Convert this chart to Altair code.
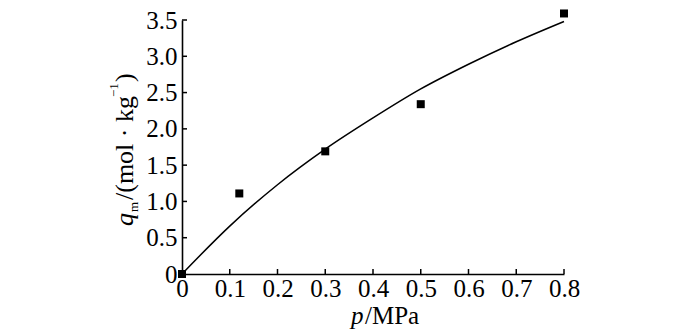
import altair as alt
import pandas as pd

# measured points
p_data = [0.0, 0.12, 0.30, 0.50, 0.80]
q_data = [0.0, 1.11, 1.69, 2.34, 3.59]

# fitted curve
p_fit = [0.0, 0.1, 0.2, 0.3, 0.4, 0.5, 0.6, 0.7, 0.8]
q_fit = [0.0, 0.66, 1.23, 1.72, 2.15, 2.55, 2.89, 3.20, 3.48]

x_ticks = [0.0, 0.1, 0.2, 0.3, 0.4, 0.5, 0.6, 0.7, 0.8]
y_ticks = [0.0, 0.5, 1.0, 1.5, 2.0, 2.5, 3.0, 3.5]

W, H = 382, 254
FONT = "Liberation Serif"
FS = 25

xs = alt.Scale(domain=[0, 0.8], nice=False, zero=False)
ys = alt.Scale(domain=[0, 3.5], nice=False, zero=False)

x_axis = alt.Axis(values=x_ticks, ticks=False, grid=False, title=None,
                  labelExpr="datum.value == 0 ? '0' : format(datum.value, '.1f')",
                  domainColor="black", domainWidth=1.6, labelFont=FONT, labelFontSize=FS,
                  labelColor="black", labelPadding=2, labelFlush=False, labelOverlap=False)
y_axis = alt.Axis(values=y_ticks, ticks=False, grid=False, title=None,
                  labelExpr="datum.value == 0 ? '0' : format(datum.value, '.1f')",
                  domainColor="black", domainWidth=1.6, labelFont=FONT, labelFontSize=FS,
                  labelColor="black", labelPadding=5, labelFlush=False, labelOverlap=False)

fit_df = pd.DataFrame({"p": p_fit, "q": q_fit})
pts_df = pd.DataFrame({"p": p_data, "q": q_data})

curve = alt.Chart(fit_df).mark_line(color="black", strokeWidth=1.5, interpolate="monotone").encode(
    x=alt.X("p:Q", scale=xs, axis=x_axis), y=alt.Y("q:Q", scale=ys, axis=y_axis))

points = alt.Chart(pts_df).mark_square(color="black", size=64, opacity=1, clip=False).encode(
    x=alt.X("p:Q", scale=xs, axis=x_axis), y=alt.Y("q:Q", scale=ys, axis=y_axis))

xt = alt.Chart(pd.DataFrame({"p": x_ticks[1:]})).mark_rule(color="black", strokeWidth=1.5).encode(
    x=alt.X("p:Q", scale=xs, axis=x_axis), y=alt.value(H), y2=alt.value(H - 5))
yt = alt.Chart(pd.DataFrame({"q": y_ticks[1:]})).mark_rule(color="black", strokeWidth=1.5).encode(
    y=alt.Y("q:Q", scale=ys, axis=y_axis), x=alt.value(0), x2=alt.value(5))


def label(txt, x, y, size=FS, italic=False, angle=0):
    kw = dict(font=FONT, fontSize=size, color="black", align="left", baseline="alphabetic")
    if italic:
        kw["fontStyle"] = "italic"
    if angle:
        kw["angle"] = angle
    return alt.Chart(pd.DataFrame({"t": [txt]})).mark_text(**kw).encode(
        text="t:N", x=alt.value(x), y=alt.value(y))


texts = [
    label("p", 169, 304, size=25, italic=True),
    label("/MPa", 183, 304, size=25),
    label("q", -49, 206, size=26, italic=True, angle=270),
    label("m", -44, 192, size=13, angle=270),
    label("/(mol · kg", -49, 180, size=26, angle=270),
    label("−1", -64, 77, size=13, angle=270),
    label(")", -49, 62, size=26, angle=270),
]

chart = alt.layer(xt, yt, curve, points, *texts).properties(
    width=W, height=H,
    autosize=alt.AutoSizeParams(type="none"),
    padding={"left": 174, "top": 12, "right": 100, "bottom": 56},
).configure_view(stroke=None)

chart.save("out.html", embed_options={"renderer": "svg", "actions": False})
